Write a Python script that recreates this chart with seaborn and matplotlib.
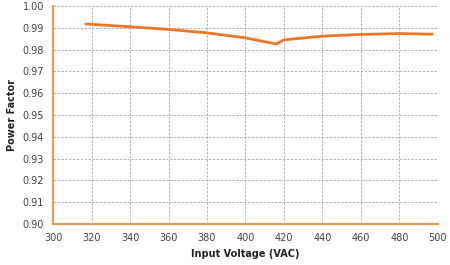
import seaborn as sns
import matplotlib.pyplot as plt
import pandas as pd

# values
voltage = [317, 340, 360, 380, 400, 416, 420, 440, 460, 480, 497]
power_factor = [0.9918, 0.9905, 0.9893, 0.9877, 0.9854, 0.9826, 0.9845, 0.9862, 0.9870, 0.9874, 0.9871]
x_ticks = list(range(300, 501, 20))
y_ticks = [0.90, 0.91, 0.92, 0.93, 0.94, 0.95, 0.96, 0.97, 0.98, 0.99, 1.00]

data = pd.DataFrame({"voltage": voltage, "pf": power_factor})

sns.set_style("white")
plt.rcParams['font.family'] = ['DejaVu Sans']

fig = plt.figure(figsize=(4.5, 2.65), dpi=100)
ax = fig.add_axes([0.118, 0.155, 0.855, 0.822])

sns.lineplot(x="voltage", y="pf", data=data, ax=ax, color="#EE7623", linewidth=2.0)

ax.set_xlim(300, 500)
ax.set_ylim(0.90, 1.00)
ax.set_xticks(x_ticks)
ax.set_yticks(y_ticks)
ax.set_yticklabels([f"{v:.2f}" for v in y_ticks])
ax.grid(True, color="#B0B0B0", linestyle=(0, (2.5, 1.5)), linewidth=0.7)

for side in ["top", "right"]:
    ax.spines[side].set_visible(False)
for side in ["left", "bottom"]:
    ax.spines[side].set_color("#F79646")
    ax.spines[side].set_linewidth(1.5)
ax.tick_params(axis="both", labelsize=7, colors="#F79646", labelcolor="#404040", length=3, width=1)

ax.set_xlabel("Input Voltage (VAC)", fontsize=7, fontweight="bold", color="#222222")
ax.set_ylabel("Power Factor", fontsize=7, fontweight="bold", color="#222222")

fig.savefig("out.png", dpi=100)
